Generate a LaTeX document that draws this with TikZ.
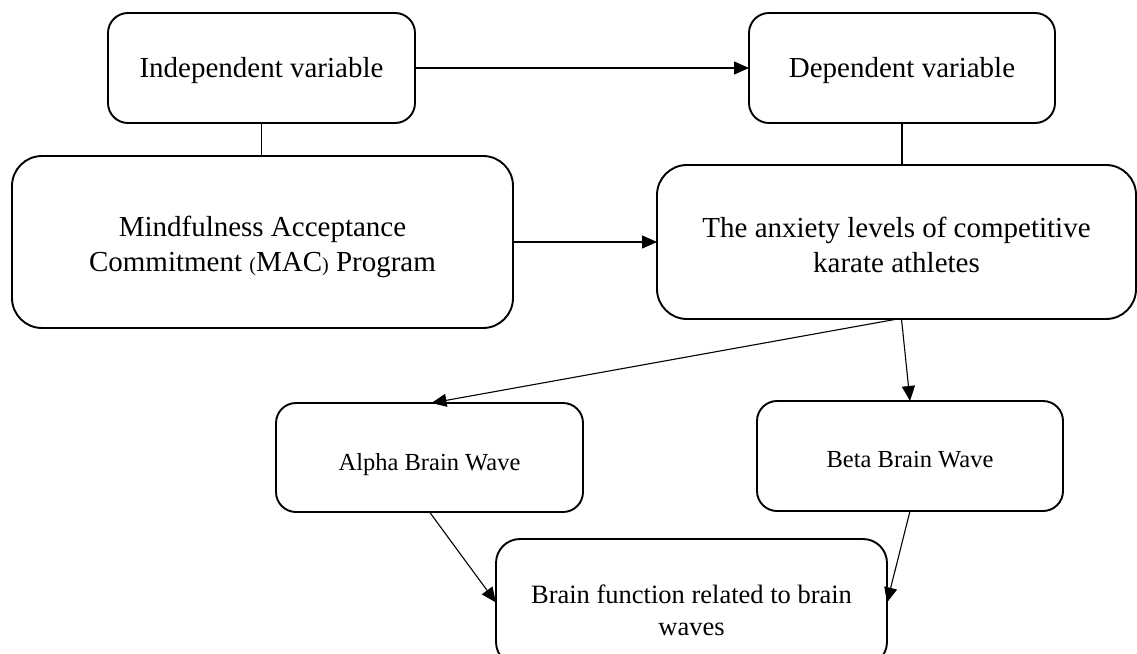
\documentclass[tikz,border=0pt]{standalone}
\usepackage{fontspec}
\setmainfont{Liberation Serif}
\usetikzlibrary{arrows.meta}
\newcommand{\bigtxt}{\fontsize{29}{35}\selectfont}
\newcommand{\midtxt}{\fontsize{26.5}{32}\selectfont}
\newcommand{\smalltxt}{\fontsize{24.5}{29}\selectfont}
\newcommand{\parsz}[1]{{\fontsize{20}{20}\selectfont #1}}
\begin{document}
\begin{tikzpicture}[x=1pt,y=-1pt,
  box/.style={draw, line width=1.9pt, rounded corners=20pt, inner sep=0pt, outer sep=0pt},
  lbl/.style={align=center, inner sep=0pt},
  conn/.style={line width=1.1pt},
  arr/.style={conn, -{Triangle[length=15pt,width=13pt]}}]
\useasboundingbox (0,0) rectangle (1137,653);
\node[box, minimum width=307pt, minimum height=110pt] (b1) at (261.5,68) {};
\node[box, minimum width=306pt, minimum height=110pt] (b2) at (902,68) {};
\node[box, rounded corners=30pt, minimum width=501pt, minimum height=172pt] (b3) at (262.5,242) {};
\node[box, rounded corners=30pt, minimum width=479pt, minimum height=154pt] (b4) at (896.5,242) {};
\node[box, minimum width=307pt, minimum height=109pt] (b5) at (429.5,457.5) {};
\node[box, minimum width=306pt, minimum height=110pt] (b6) at (910,456) {};
\node[box, rounded corners=24pt, minimum width=391pt, minimum height=127pt] (b7) at (691.5,602.5) {};
\node[lbl, font=\bigtxt] (t1) at ([yshift=-3pt]b1.center) {Independent variable};
\node[lbl, font=\bigtxt] (t2) at ([yshift=-3pt]b2.center) {Dependent variable};
\node[lbl, font=\bigtxt] (t3) at ([yshift=-5pt]b3.center) {Mindfulness Acceptance\\Commitment \parsz{(}MAC\parsz{)} Program};
\node[lbl, font=\bigtxt] (t4) at ([yshift=-3pt]b4.center) {The anxiety levels of competitive\\karate athletes};
\node[lbl, font=\smalltxt] (t5) at ([yshift=-7pt]b5.center) {Alpha Brain Wave};
\node[lbl, font=\smalltxt] (t6) at ([yshift=-4pt]b6.center) {Beta Brain Wave};
\node[lbl, font=\midtxt] (t7) at ([yshift=-8pt]b7.center) {Brain function related to brain\\waves};
\draw[arr] (b1.east) -- (b2.west);
\draw[conn] (b1.south) -- (b1.south |- b3.north);
\draw[conn] (b2.south) -- (b2.south |- b4.north);
\draw[arr] (b3.east) -- (b4.west);
\draw[arr] ([xshift=1pt]b4.south) -- ([xshift=2pt]b5.north);
\draw[arr] ([xshift=5pt]b4.south) -- (b6.north);
\draw[arr] (b5.south) -- (b7.west);
\draw[arr] (b6.south) -- (b7.east);
\end{tikzpicture}
\end{document}
